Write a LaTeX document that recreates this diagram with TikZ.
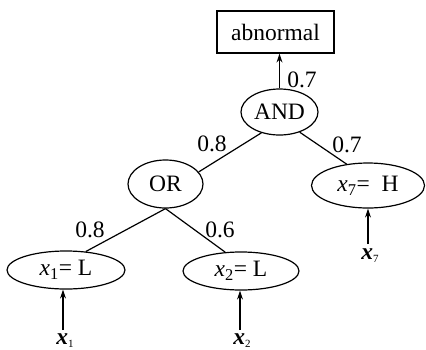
\documentclass[tikz,border=0pt]{standalone}
\usepackage{fontspec}
\setmainfont{Liberation Serif}
\usetikzlibrary{shapes.geometric,arrows.meta}
\begin{document}
\begin{tikzpicture}[x=1pt,y=1pt,line width=1.2pt,
  every node/.style={font=\fontsize{23.5}{26}\selectfont, inner sep=0pt},
  oval/.style={ellipse, draw},
  lab/.style={},
  inarrow/.style={-{Stealth[length=9pt,width=6pt]}}]
\useasboundingbox (0,0) rectangle (426,-349);
\node[draw, minimum width=117pt, minimum height=42pt] (box) at (275.5,-32) {abnormal};
\node[oval, minimum width=77pt, minimum height=46pt] (and) at (279.5,-112) {AND};
\node[oval, minimum width=75pt, minimum height=48pt] (or) at (165.5,-184) {OR};
\node[oval, minimum width=113pt, minimum height=45pt] (x7) at (368,-185.5) {\textit{x}\textsubscript{7}=\ \ H};
\node[oval, minimum width=118pt, minimum height=38pt] (x1) at (66,-270) {\textit{x}\textsubscript{1}= L};
\node[oval, minimum width=116pt, minimum height=38pt] (x2) at (241,-271) {\textit{x}\textsubscript{2}= L};

\draw[inarrow] (and.north) -- (and.north |- box.south);
\draw (and.229) -- (or.20);
\draw (and.315) -- (x7.135);
\draw (or.south) -- (x1.43);
\draw (or.south) -- (x2.130);

\node[lab] (w0) at (302,-80) {0.7};
\node[lab] (w1) at (212,-144) {0.8};
\node[lab] (w2) at (347,-145) {0.7};
\node[lab] (w3) at (90,-230) {0.8};
\node[lab] (w4) at (220,-230) {0.6};

\node (l1) at (65,-341) {\textbf{\textit{x}}\raisebox{-3pt}{\fontsize{11}{11}\selectfont 1}};
\node (l2) at (242,-341) {\textbf{\textit{x}}\raisebox{-3pt}{\fontsize{11}{11}\selectfont 2}};
\node (l7) at (370,-256) {\textbf{\textit{x}}\raisebox{-3pt}{\fontsize{11}{11}\selectfont 7}};
\coordinate (a1) at (63,-330);
\coordinate (a2) at (240,-330);
\coordinate (a7) at (368,-244);
\draw[inarrow] (a1) -- (a1 |- x1.south);
\draw[inarrow] (a2) -- (a2 |- x2.south);
\draw[inarrow] (a7) -- (a7 |- x7.south);
\end{tikzpicture}
\end{document}
